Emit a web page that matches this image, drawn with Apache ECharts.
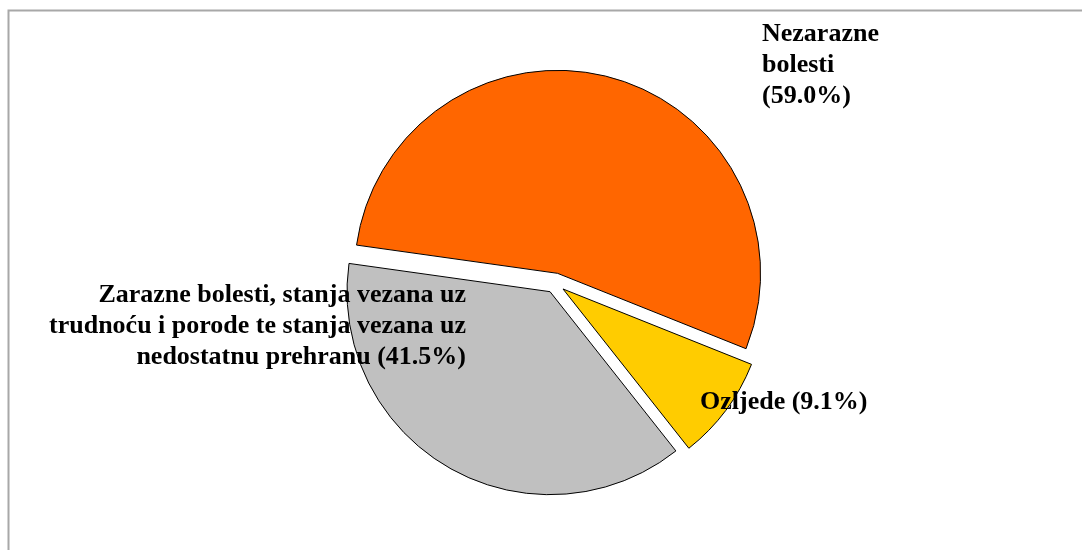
<!DOCTYPE html>
<html>
<head>
<meta charset="utf-8">
<script src="https://cdn.jsdelivr.net/npm/echarts@6/dist/echarts.min.js"></script>
<style>
  html, body { margin: 0; padding: 0; background: #ffffff; }
  #chart { width: 1082px; height: 550px; }
</style>
</head>
<body>
<div id="chart"></div>
<script>
// Causes of death by group (percent)
var categories = [
  'Nezarazne\nbolesti',
  'Ozljede',
  'Zarazne bolesti, stanja vezana uz\ntrudnoću i porode te stanja vezana uz\nnedostatnu prehranu'
];
var shares = [59.0, 9.1, 41.5];
var sliceColors = ['#ff6600', '#ffcc00', '#c0c0c0'];

// where each label block sits: [x, y, align]
var labelSpots = [
  [762, 65, 'left'],
  [700, 402, 'left'],
  [466, 326, 'right']
];

var chart = echarts.init(document.getElementById('chart'), null, { renderer: 'canvas' });

var pieData = categories.map(function (name, i) {
  return {
    name: name,
    value: shares[i],
    selected: true,
    itemStyle: { color: sliceColors[i] },
    select: { itemStyle: { color: sliceColors[i], borderColor: '#000000', borderWidth: 1 } }
  };
});

function labelText(i) {
  var sep = i === 0 ? '\n' : ' ';
  return categories[i] + sep + '(' + shares[i].toFixed(1) + '%)';
}

var labelFont = 'bold 26px "Liberation Serif", "Times New Roman", serif';

var graphics = [{
  type: 'rect',
  shape: { x: 8.5, y: 10.5, width: 1200, height: 700 },
  style: { fill: 'none', stroke: '#a8a8a8', lineWidth: 2 },
  silent: true,
  z: 0
}];

categories.forEach(function (name, i) {
  var s = labelSpots[i];
  graphics.push({
    type: 'text',
    x: s[0],
    y: s[1],
    z: 10,
    silent: true,
    style: {
      text: labelText(i),
      font: labelFont,
      lineHeight: 31,
      fill: '#000000',
      align: s[2],
      verticalAlign: 'middle'
    }
  });
});

chart.setOption({
  animation: false,
  backgroundColor: '#ffffff',
  graphic: graphics,
  series: [{
    type: 'pie',
    center: [555, 283],
    radius: 203,
    startAngle: 172,
    clockwise: true,
    selectedMode: 'multiple',
    selectedOffset: 10,
    itemStyle: { borderColor: '#000000', borderWidth: 1 },
    emphasis: { disabled: true },
    label: { show: false },
    labelLine: { show: false },
    data: pieData
  }]
});
</script>
</body>
</html>
